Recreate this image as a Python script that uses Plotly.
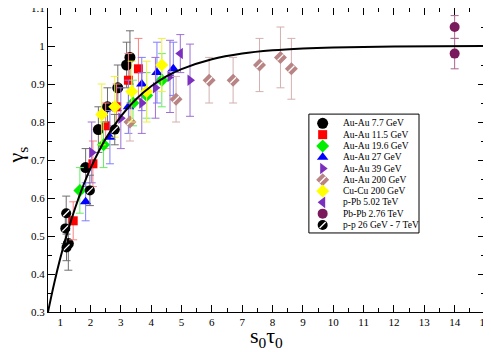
import plotly.graph_objects as go

# gamma_s vs s0*tau0
auau77_x = [1.27, 1.84, 2.26, 2.56, 2.90, 3.19, 3.30]
auau77_y = [0.48, 0.68, 0.78, 0.84, 0.89, 0.95, 0.97]
auau77_err = [0.07, 0.05, 0.06, 0.05, 0.06, 0.06, 0.07]

auau115_x = [1.43, 2.08, 2.50, 2.86, 3.25, 3.58]
auau115_y = [0.54, 0.69, 0.79, 0.84, 0.91, 0.94]
auau115_err = [0.05, 0.06, 0.06, 0.06, 0.07, 0.08]

auau196_x = [1.65, 2.43, 3.40, 3.85, 4.35]
auau196_y = [0.62, 0.74, 0.85, 0.87, 0.91]
auau196_err = [0.06, 0.06, 0.06, 0.06, 0.07]

auau27_x = [1.84, 2.64, 3.25, 3.69, 4.19, 4.73]
auau27_y = [0.59, 0.76, 0.84, 0.90, 0.93, 0.94]
auau27_err = [0.05, 0.07, 0.07, 0.07, 0.08, 0.07]

auau39_x = [2.04, 3.00, 3.69, 4.14, 4.62, 5.28]
auau39_y = [0.72, 0.81, 0.85, 0.89, 0.92, 0.91]
auau39_err = [0.08, 0.08, 0.08, 0.08, 0.095, 0.095]

auau200_x = [3.30, 4.82, 5.91, 6.70, 7.57, 8.26, 8.62]
auau200_y = [0.80, 0.86, 0.91, 0.91, 0.95, 0.97, 0.94]
auau200_err = [0.05, 0.06, 0.06, 0.06, 0.07, 0.08, 0.08]

cucu200_x = [2.37, 2.80, 3.36, 3.85, 4.35]
cucu200_y = [0.82, 0.84, 0.88, 0.88, 0.95]
cucu200_err = [0.08, 0.08, 0.08, 0.08, 0.07]

ppb_x = [4.96]
ppb_y = [0.98]
ppb_err = [0.05]

pbpb_x = [14.0, 14.0]
pbpb_y = [1.05, 0.98]
pbpb_err = [0.03, 0.04]

pp_x = [1.20, 1.17, 1.21, 1.98, 2.80]
pp_y = [0.56, 0.52, 0.47, 0.62, 0.78]
pp_err = [0.045, 0.04, 0.035, 0.04, 0.04]

# fitted curve
curve_x = [0.6, 0.8, 1.0, 1.25, 1.5, 1.75, 2.0, 2.5, 3.0, 3.5, 4.0, 4.5, 5.0,
           6.0, 7.0, 8.0, 9.0, 10.0, 12.0, 15.0]
curve_y = [0.300, 0.374, 0.440, 0.512, 0.575, 0.630, 0.678, 0.756, 0.815, 0.860,
           0.894, 0.920, 0.939, 0.965, 0.980, 0.9885, 0.9934, 0.9962, 0.9987, 0.9998]

x_ticks = list(range(1, 16))
y_ticks = [0.3, 0.4, 0.5, 0.6, 0.7, 0.8, 0.9, 1.0, 1.1]
y_labels = ["0.3", "0.4", "0.5", "0.6", "0.7", "0.8", "0.9", "1", "1.1"]

series = [
    # name, x, y, err, symbol, colour, error colour, size, hatched
    ("Au-Au 7.7 GeV", auau77_x, auau77_y, auau77_err, "circle", "black", "#6e6e6e", 11, False),
    ("Au-Au 11.5 GeV", auau115_x, auau115_y, auau115_err, "square", "#ff0000", "#ff8080", 9, False),
    ("Au-Au 19.6 GeV", auau196_x, auau196_y, auau196_err, "diamond", "#00ee00", "#66ee66", 10, False),
    ("Au-Au 27 GeV", auau27_x, auau27_y, auau27_err, "triangle-up", "#0000ff", "#7f7fff", 10, False),
    ("Au-Au 39 GeV", auau39_x, auau39_y, auau39_err, "triangle-right", "#7b2fbf", "#9d6fd6", 10, False),
    ("Au-Au 200 GeV", auau200_x, auau200_y, auau200_err, "diamond", "#b88484", "#d4b0b0", 10, True),
    ("Cu-Cu 200 GeV", cucu200_x, cucu200_y, cucu200_err, "diamond", "#ffff00", "#f0f040", 10, False),
    ("p-Pb 5.02 TeV", ppb_x, ppb_y, ppb_err, "triangle-left", "#7b2fbf", "#9d6fd6", 10, False),
    ("Pb-Pb 2.76 TeV", pbpb_x, pbpb_y, pbpb_err, "circle", "#7a1a5c", "#a8668f", 10, False),
    ("p-p 26 GeV - 7 TeV", pp_x, pp_y, pp_err, "circle", "black", "#6e6e6e", 10, True),
]

fig = go.Figure()

hatch_marker = dict(symbol="line-ne", size=6, line=dict(color="white", width=1.3))

for i, (name, xs, ys, es, sym, col, ecol, sz, hatch) in enumerate(series):
    fig.add_trace(go.Scatter(
        x=xs, y=ys, mode="markers", name=name, showlegend=False,
        marker=dict(symbol=sym, color=col, size=sz, line=dict(width=0)),
        error_y=dict(type="data", array=es, color=ecol, thickness=1, width=4),
    ))
    if hatch:
        fig.add_trace(go.Scatter(x=xs, y=ys, mode="markers", showlegend=False,
                                 hoverinfo="skip", marker=hatch_marker))
    # hand-made legend on a hidden axis pair
    fig.add_trace(go.Scatter(
        x=[0.125], y=[i], xaxis="x2", yaxis="y2", mode="markers", showlegend=False,
        marker=dict(symbol=sym, color=col, size=sz, line=dict(width=0)),
    ))
    if hatch:
        fig.add_trace(go.Scatter(x=[0.125], y=[i], xaxis="x2", yaxis="y2", mode="markers",
                                 showlegend=False, marker=hatch_marker))
    fig.add_annotation(x=0.29, y=i, xref="x2", yref="y2", text=name, showarrow=False,
                       xanchor="left", yanchor="middle",
                       font=dict(family="Liberation Serif", size=9.5, color="black"))

fig.add_trace(go.Scatter(x=curve_x, y=curve_y, mode="lines", line_shape="spline",
                         line=dict(color="black", width=2), showlegend=False))

fig.add_shape(type="rect", xref="x2 domain", yref="y2 domain", x0=0, x1=1, y0=0, y1=1,
              line=dict(color="black", width=1), fillcolor="rgba(0,0,0,0)")

# axis titles
fig.add_annotation(x=0.501, y=-0.082, xref="paper", yref="paper", text="s<sub>0</sub>τ<sub>0</sub>",
                   showarrow=False, xanchor="center", yanchor="middle",
                   font=dict(family="Liberation Serif", size=22, color="black"))
fig.add_annotation(x=-0.07, y=0.516, xref="paper", yref="paper", text="γ<sub>s</sub>",
                   showarrow=False, textangle=-90, xanchor="center", yanchor="middle",
                   font=dict(family="Liberation Serif", size=22, color="black"))

axis_common = dict(
    showline=True, linecolor="black", linewidth=1, mirror="allticks",
    ticks="inside", ticklen=7, tickcolor="black", showgrid=False, zeroline=False,
    automargin=False, ticklabeloverflow="allow",
    tickfont=dict(family="Liberation Serif", size=11, color="black"),
)

# page body adds 8px, so the figure is sized to fit the window
fig.update_layout(
    width=483, height=344,
    margin=dict(l=40, r=6, t=0, b=40),
    paper_bgcolor="white", plot_bgcolor="white",
    font=dict(family="Liberation Serif", color="black"),
    xaxis=dict(range=[0.6, 15], tickvals=x_ticks,
               minor=dict(ticks="inside", ticklen=4, dtick=0.5, tick0=0, tickcolor="black"),
               **axis_common),
    yaxis=dict(range=[0.3, 1.1], tickvals=y_ticks, ticktext=y_labels,
               minor=dict(ticks="inside", ticklen=4, dtick=0.05, tick0=0.3, tickcolor="black"),
               **axis_common),
    xaxis2=dict(domain=[0.597, 0.849], range=[0, 1], visible=False, anchor="y2", fixedrange=True),
    yaxis2=dict(domain=[0.26, 0.651], range=[9.71, -0.82], visible=False, anchor="x2", fixedrange=True),
    showlegend=False,
)

fig.write_html("out.html")
